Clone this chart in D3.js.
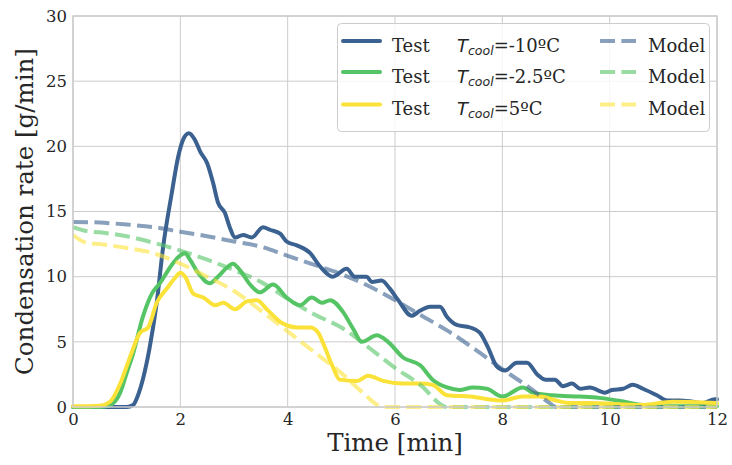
<!DOCTYPE html>
<html>
<head>
<meta charset="utf-8">
<script src="https://cdn.jsdelivr.net/npm/d3@7"></script>
<style>
  html, body { margin: 0; padding: 0; background: #fff; }
  svg text { font-family: "DejaVu Serif", serif; fill: #262626; }
</style>
</head>
<body>
<svg id="chart" width="732" height="465"></svg>
<script>
// Measured condensation rate (Test) and predicted rate (Model) per coolant temperature
const seriesLabels = ["-10ºC", "-2.5ºC", "5ºC"];
const seriesColors = ["#3a6190", "#55c465", "#fbe239"];

const testTimeCold = [0, 0.5, 1.0, 1.12, 1.22, 1.3, 1.43, 1.56, 1.68, 1.84, 1.96, 2.05, 2.16, 2.27, 2.37, 2.5, 2.61, 2.7, 2.83, 2.92, 3.02, 3.17, 3.33, 3.54, 3.67, 3.86, 3.98, 4.17, 4.42, 4.6, 4.84, 5.1, 5.25, 5.47, 5.57, 5.75, 5.9, 6.06, 6.31, 6.47, 6.65, 6.84, 6.97, 7.15, 7.4, 7.58, 7.73, 7.9, 8.05, 8.27, 8.46, 8.65, 8.8, 8.98, 9.13, 9.3, 9.45, 9.63, 9.91, 10.04, 10.25, 10.43, 10.62, 10.88, 11.07, 11.3, 11.55, 11.74, 11.96, 12];
const testRateCold = [0, 0, 0, 0.15, 1.0, 2.1, 4.6, 8.0, 12.3, 16.4, 19.2, 20.5, 21.0, 20.5, 19.6, 18.7, 17.2, 15.7, 14.9, 13.8, 13.0, 13.2, 13.0, 13.8, 13.6, 13.3, 12.7, 12.4, 11.8, 10.8, 10.0, 10.6, 10.0, 10.0, 9.6, 9.7, 9.1, 8.2, 7.0, 7.4, 7.7, 7.7, 6.9, 6.3, 6.1, 5.7, 4.6, 3.1, 2.8, 3.4, 3.4, 2.5, 2.1, 2.1, 1.6, 1.8, 1.4, 1.5, 1.1, 1.3, 1.4, 1.7, 1.4, 0.9, 0.5, 0.5, 0.4, 0.3, 0.6, 0.6];

const testTimeMid = [0, 0.5, 0.69, 0.88, 1.0, 1.12, 1.3, 1.47, 1.62, 1.84, 1.96, 2.09, 2.18, 2.33, 2.55, 2.7, 2.87, 2.98, 3.11, 3.3, 3.48, 3.73, 3.98, 4.23, 4.45, 4.64, 4.79, 5.03, 5.22, 5.38, 5.66, 5.87, 6.15, 6.47, 6.7, 6.97, 7.2, 7.45, 7.71, 8.0, 8.38, 8.57, 8.94, 9.44, 9.8, 10.14, 10.62, 11.0, 12];
const testRateMid = [0, 0, 0.15, 1.1, 2.6, 4.1, 6.9, 8.7, 9.5, 10.9, 11.5, 11.8, 11.3, 10.3, 9.5, 10.0, 10.7, 11.0, 10.5, 9.4, 8.8, 9.4, 8.4, 7.8, 8.4, 8.0, 8.2, 7.3, 6.0, 5.0, 5.5, 5.0, 3.8, 3.2, 2.1, 1.5, 1.3, 1.5, 1.4, 0.8, 1.5, 1.1, 0.9, 0.8, 0.7, 0.5, 0.15, 0.05, 0.05];

const testTimeWarm = [0, 0.5, 0.69, 0.88, 1.06, 1.25, 1.4, 1.56, 1.75, 1.9, 2.0, 2.09, 2.24, 2.43, 2.65, 2.8, 3.02, 3.24, 3.43, 3.61, 3.91, 4.17, 4.42, 4.57, 4.66, 4.84, 4.97, 5.29, 5.5, 5.78, 6.15, 6.47, 6.7, 6.97, 7.4, 8.0, 8.38, 8.7, 9.0, 9.26, 9.63, 10.56, 11.18, 12];
const testRateWarm = [0.05, 0.1, 0.4, 1.8, 3.8, 5.7, 6.1, 8.0, 9.1, 9.9, 10.3, 10.0, 8.7, 8.4, 7.8, 8.0, 7.5, 8.1, 8.2, 7.5, 6.4, 6.1, 6.1, 5.7, 4.9, 3.1, 2.1, 2.0, 2.4, 2.0, 1.8, 1.8, 1.7, 0.9, 0.8, 0.5, 0.8, 0.8, 0.5, 0.3, 0.3, 0.15, 0.4, 0.3];

const modelTimeCold = [0, 0.5, 1.0, 1.5, 2.0, 2.5, 3.0, 3.5, 4.0, 4.5, 5.0, 5.5, 6.0, 6.5, 7.0, 7.5, 8.0, 8.5, 8.85, 9.0, 12];
const modelRateCold = [14.2, 14.15, 14.0, 13.8, 13.45, 13.1, 12.7, 12.3, 11.6, 10.9, 10.2, 9.3, 8.2, 7.0, 5.8, 4.4, 2.9, 1.5, 0.4, 0, 0];

const modelTimeMid = [0, 0.25, 0.5, 1.0, 1.5, 2.0, 2.5, 3.0, 3.5, 4.0, 4.5, 5.0, 5.5, 6.0, 6.5, 6.85, 6.95, 12];
const modelRateMid = [13.8, 13.5, 13.4, 13.1, 12.6, 12.0, 11.3, 10.5, 9.6, 8.3, 7.1, 6.1, 4.6, 3.0, 1.6, 0.2, 0, 0];

const modelTimeWarm = [0, 0.25, 0.5, 1.0, 1.5, 2.0, 2.5, 3.0, 3.5, 4.0, 4.5, 5.0, 5.4, 5.7, 5.8, 12];
const modelRateWarm = [13.2, 12.6, 12.5, 12.2, 11.8, 11.0, 10.0, 8.9, 7.4, 5.8, 4.2, 2.6, 1.1, 0.1, 0, 0];

const xTicks = [0, 2, 4, 6, 8, 10, 12];
const yTicks = [0, 5, 10, 15, 20, 25, 30];

const testTimes = [testTimeCold, testTimeMid, testTimeWarm];
const testRates = [testRateCold, testRateMid, testRateWarm];
const modelTimes = [modelTimeCold, modelTimeMid, modelTimeWarm];
const modelRates = [modelRateCold, modelRateMid, modelRateWarm];

const svg = d3.select("#chart");
const margin = { left: 73, right: 15, top: 16, bottom: 58 };
const W = 732, H = 465;

const x = d3.scaleLinear().domain([0, 12]).range([margin.left, W - margin.right]);
const y = d3.scaleLinear().domain([0, 30]).range([H - margin.bottom, margin.top]);

// grid
const grid = svg.append("g");
grid.selectAll(".gx").data(xTicks).join("line")
  .attr("x1", d => x(d)).attr("x2", d => x(d))
  .attr("y1", y(0)).attr("y2", y(30))
  .attr("stroke", "#cccccc").attr("stroke-width", 1);
grid.selectAll(".gy").data(yTicks).join("line")
  .attr("x1", x(0)).attr("x2", x(12))
  .attr("y1", d => y(d)).attr("y2", d => y(d))
  .attr("stroke", "#cccccc").attr("stroke-width", 1);

// axes (labels only, no tick marks)
const xAxis = svg.append("g").attr("transform", `translate(0,${y(0)})`)
  .call(d3.axisBottom(x).tickValues(xTicks).tickSize(0).tickPadding(6).tickFormat(d3.format("d")));
const yAxis = svg.append("g").attr("transform", `translate(${x(0)},0)`)
  .call(d3.axisLeft(y).tickValues(yTicks).tickSize(0).tickPadding(6).tickFormat(d3.format("d")));
[xAxis, yAxis].forEach(a => {
  a.select(".domain").remove();
  a.selectAll("text").style("font-family", "DejaVu Serif").style("font-size", "16.5px").attr("fill", "#262626");
});

// data lines
const line = d3.line().x(d => x(d[0])).y(d => y(d[1])).curve(d3.curveMonotoneX);
const plot = svg.append("g");
const zip = (a, b) => a.map((t, i) => [t, b[i]]);

testTimes.forEach((ts, i) => {
  plot.append("path").datum(zip(ts, testRates[i]))
    .attr("d", line).attr("fill", "none")
    .attr("stroke", seriesColors[i]).attr("stroke-width", 4)
    .attr("stroke-linejoin", "round").attr("stroke-linecap", "round");
});
modelTimes.forEach((ts, i) => {
  plot.append("path").datum(zip(ts, modelRates[i]))
    .attr("d", line).attr("fill", "none")
    .attr("stroke", seriesColors[i]).attr("stroke-opacity", 0.6)
    .attr("stroke-width", 4).attr("stroke-dasharray", "15,6.4");
});

// frame
svg.append("rect")
  .attr("x", x(0)).attr("y", y(30))
  .attr("width", x(12) - x(0)).attr("height", y(0) - y(30))
  .attr("fill", "none").attr("stroke", "#cccccc").attr("stroke-width", 1.5);

// axis titles
svg.append("text").attr("x", (x(0) + x(12)) / 2).attr("y", 451)
  .attr("text-anchor", "middle").style("font-size", "24.5px").text("Time [min]");
svg.append("text")
  .attr("transform", `translate(33,${(y(0) + y(30)) / 2}) rotate(-90)`)
  .attr("text-anchor", "middle").style("font-size", "24.5px").text("Condensation rate [g/min]");

// legend
const lg = svg.append("g");
lg.append("rect").attr("x", 337.5).attr("y", 23.5).attr("width", 372).attr("height", 108)
  .attr("rx", 4).attr("fill", "#fff").attr("fill-opacity", 0.8)
  .attr("stroke", "#cccccc").attr("stroke-width", 1);
const rowsY = [41, 72, 104.5];
seriesLabels.forEach((lab, i) => {
  const ry = rowsY[i];
  lg.append("line").attr("x1", 343).attr("x2", 380).attr("y1", ry).attr("y2", ry)
    .attr("stroke", seriesColors[i]).attr("stroke-width", 4).attr("stroke-linecap", "round");
  lg.append("text").attr("x", 392).attr("y", ry + 10.5).style("font-size", "18px").text("Test");
  const t = lg.append("text").attr("x", 457).attr("y", ry + 10.5).style("font-size", "18px");
  t.append("tspan").style("font-family", "DejaVu Sans").style("font-style", "italic").text("T");
  t.append("tspan").style("font-family", "DejaVu Sans").style("font-style", "italic")
    .style("font-size", "12.5px").attr("dy", 3).text("cool");
  t.append("tspan").attr("dy", -3).text("=" + lab);
  lg.append("line").attr("x1", 600).attr("x2", 636).attr("y1", ry).attr("y2", ry)
    .attr("stroke", seriesColors[i]).attr("stroke-opacity", 0.6)
    .attr("stroke-width", 4).attr("stroke-dasharray", "15,6.4");
  lg.append("text").attr("x", 648).attr("y", ry + 10.5).style("font-size", "18px").text("Model");
});
</script>
</body>
</html>
